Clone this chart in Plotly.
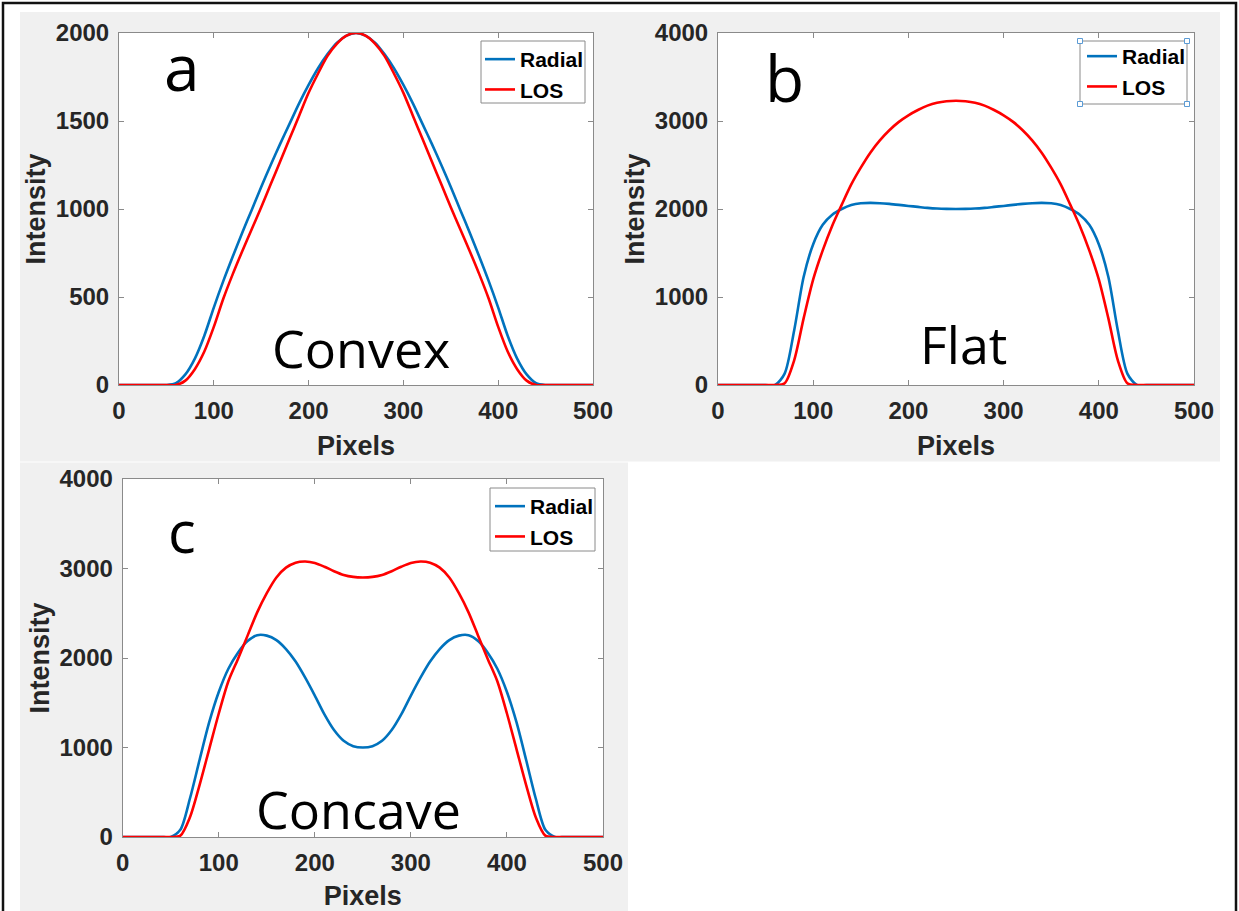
import plotly.graph_objects as go

W, H = 1239, 911

# ---------------- data ----------------
pixels = [0, 10, 20, 30, 40, 50, 60, 70, 80, 90, 100, 110, 120, 130, 140, 150, 160, 170, 180, 190,
          200, 210, 220, 230, 240, 250, 260, 270, 280, 290, 300, 310, 320, 330, 340, 350, 360, 370,
          380, 390, 400, 410, 420, 430, 440, 450, 460, 470, 480, 490, 500]

convex_radial = [0, 0, 0, 0, 0, 0,
                 10, 60, 150, 280, 440, 590, 730, 865, 995, 1125, 1250, 1370, 1485, 1600,
                 1705, 1800, 1880, 1945, 1985, 2000,
                 1985, 1945, 1880, 1800, 1705, 1600, 1485, 1370, 1250, 1125, 995, 865, 730, 590,
                 440, 280, 150, 60, 10, 0, 0, 0, 0, 0, 0]
convex_los = [0, 0, 0, 0, 0, 0, 0,
              25, 90, 190, 330, 490, 630, 760, 885, 1010, 1140, 1270, 1400, 1530,
              1660, 1770, 1870, 1940, 1985, 2000,
              1985, 1940, 1870, 1770, 1660, 1530, 1400, 1270, 1140, 1010, 885, 760, 630, 490,
              330, 190, 90, 25, 0, 0, 0, 0, 0, 0, 0]

flat_radial = [0, 0, 0, 0, 0, 0, 0,
               130, 620, 1230, 1600, 1820, 1935, 2000, 2045, 2065, 2070, 2066, 2058, 2047,
               2035, 2024, 2013, 2005, 2001, 2000,
               2001, 2005, 2013, 2024, 2035, 2047, 2058, 2066, 2070, 2065, 2045, 2000, 1935, 1820,
               1600, 1230, 620, 130, 0, 0, 0, 0, 0, 0, 0]
flat_los = [0, 0, 0, 0, 0, 0, 0,
            20, 280, 760, 1200, 1530, 1810, 2050, 2280, 2470, 2640, 2780, 2895, 2990,
            3065, 3125, 3175, 3208, 3225, 3230,
            3225, 3208, 3175, 3125, 3065, 2990, 2895, 2780, 2640, 2470, 2280, 2050, 1810, 1530,
            1200, 760, 280, 20, 0, 0, 0, 0, 0, 0, 0]

concave_radial = [0, 0, 0, 0, 0, 0,
                  80, 430, 860, 1280, 1620, 1880, 2060, 2190, 2255, 2250, 2200, 2100, 1960, 1780,
                  1580, 1370, 1195, 1075, 1015, 1000,
                  1015, 1075, 1195, 1370, 1580, 1780, 1960, 2100, 2200, 2250, 2255, 2190, 2060, 1880,
                  1620, 1280, 860, 430, 80, 0, 0, 0, 0, 0, 0]
concave_los = [0, 0, 0, 0, 0, 0,
               15, 220, 580, 980, 1380, 1740, 1990, 2250, 2510, 2725, 2900, 3010, 3065, 3078,
               3062, 3020, 2970, 2928, 2906, 2900,
               2906, 2928, 2970, 3020, 3062, 3078, 3065, 3010, 2900, 2725, 2510, 2250, 1990, 1740,
               1380, 980, 580, 220, 15, 0, 0, 0, 0, 0, 0]

x_ticks = [0, 100, 200, 300, 400, 500]
y_ticks_a = [0, 500, 1000, 1500, 2000]
y_ticks_bc = [0, 1000, 2000, 3000, 4000]

series_names = ["Radial", "LOS"]
panel_letters = ["a", "b", "c"]
panel_labels = ["Convex", "Flat", "Concave"]
x_title = "Pixels"
y_title = "Intensity"

# ---------------- styling helpers ----------------
BLUE = "#0072BD"
RED = "#FF0000"
AXC = "#8a8a8a"
TXT = "#262626"


def px(x):
    return x / W


def py(y):
    return 1 - y / H


fig = go.Figure()

panels = [
    dict(xa="x", ya="y", leg="legend", r=convex_radial, l=convex_los),
    dict(xa="x2", ya="y2", leg="legend2", r=flat_radial, l=flat_los),
    dict(xa="x3", ya="y3", leg="legend3", r=concave_radial, l=concave_los),
]
for p in panels:
    fig.add_trace(go.Scatter(x=pixels, y=p["r"], mode="lines", name=series_names[0],
                             line=dict(color=BLUE, width=2.6, shape="spline", smoothing=0.8),
                             xaxis=p["xa"], yaxis=p["ya"], legend=p["leg"], hoverinfo="skip"))
    fig.add_trace(go.Scatter(x=pixels, y=p["l"], mode="lines", name=series_names[1],
                             line=dict(color=RED, width=2.6, shape="spline", smoothing=0.8),
                             xaxis=p["xa"], yaxis=p["ya"], legend=p["leg"], hoverinfo="skip"))

tickfont = dict(family="Liberation Sans, Arial", size=24, color=TXT, weight="bold")
titlefont = dict(family="Liberation Sans, Arial", size=27, color=TXT, weight="bold")
ax_common = dict(showline=True, linecolor=AXC, linewidth=1, mirror="ticks", ticks="inside",
                 ticklen=5, tickcolor=AXC, showgrid=False, zeroline=False, tickfont=tickfont,
                 automargin=False, fixedrange=True)

# plot-area pixel boxes (left, right, top, bottom)
boxes = [(119, 593, 33, 385), (718, 1194, 33, 385), (122.7, 603, 479, 837)]

layout_axes = {}
for i, (bx, yt) in enumerate(zip(boxes, [y_ticks_a, y_ticks_bc, y_ticks_bc])):
    l, r, t, b = bx
    sfx = "" if i == 0 else str(i + 1)
    layout_axes["xaxis" + sfx] = dict(domain=[px(l), px(r)], anchor="y" + sfx, range=[0, 500],
                                      tickvals=x_ticks, ticklabelstandoff=4,
                                      title=dict(text=x_title, font=titlefont, standoff=13),
                                      **ax_common)
    layout_axes["yaxis" + sfx] = dict(domain=[py(b), py(t)], anchor="x" + sfx, range=[0, yt[-1]],
                                      tickvals=yt, ticklabelstandoff=4,
                                      title=dict(text=y_title, font=titlefont, standoff=2),
                                      **ax_common)

legfont = dict(family="Liberation Sans, Arial", size=21, color="black", weight="bold")
leg_common = dict(font=legfont, bgcolor="rgba(0,0,0,0)", borderwidth=0, itemwidth=30,
                  xanchor="right", yanchor="top", tracegroupgap=0)

shapes = [
    # grey figure backgrounds
    dict(type="rect", xref="paper", yref="paper", x0=px(20), x1=px(1220), y0=py(461.5), y1=py(12),
         fillcolor="#f0f0f0", line=dict(width=0), layer="below"),
    dict(type="rect", xref="paper", yref="paper", x0=px(20), x1=px(628), y0=py(925), y1=py(462.5),
         fillcolor="#f0f0f0", line=dict(width=0), layer="below"),
]
for (l, r, t, b) in boxes:
    shapes.append(dict(type="rect", xref="paper", yref="paper", x0=px(l), x1=px(r), y0=py(b), y1=py(t),
                       fillcolor="white", line=dict(width=0), layer="below"))

# legend frames (left, right, top, bottom)
legend_boxes = [(481, 585, 41, 103), (1080, 1187, 41, 104), (490, 595, 488, 551)]
for (l, r, t, b) in legend_boxes:
    shapes.append(dict(type="rect", xref="paper", yref="paper", x0=px(l), x1=px(r), y0=py(b), y1=py(t),
                       fillcolor="white", line=dict(color=AXC, width=1), layer="above"))
# selection handles on legend of panel b
l, r, t, b = legend_boxes[1]
for cx, cy in [(l, t), (r, t), (l, b), (r, b)]:
    shapes.append(dict(type="rect", xref="paper", yref="paper", x0=px(cx - 2.5), x1=px(cx + 2.5),
                       y0=py(cy + 2.5), y1=py(cy - 2.5), fillcolor="white",
                       line=dict(color="#5b9bd5", width=1), layer="above"))

# outer black frame
shapes.append(dict(type="rect", xref="paper", yref="paper", x0=px(3), x1=px(1236), y0=py(930), y1=py(3),
                   line=dict(color="#111111", width=2.5), fillcolor="rgba(0,0,0,0)", layer="above"))

annfont_big = "Open Sans, Noto Sans, sans-serif"
annotations = []
ann_pos = [
    (panel_letters[0], 182, 67, 64), (panel_letters[1], 784, 77, 64), (panel_letters[2], 182, 530, 58),
    (panel_labels[0], 361, 347, 52), (panel_labels[1], 963, 343, 52), (panel_labels[2], 358, 808, 52),
]
for txt, x, y, s in ann_pos:
    annotations.append(dict(text=txt, xref="paper", yref="paper", x=px(x), y=py(y), xanchor="center",
                            yanchor="middle", showarrow=False,
                            font=dict(family=annfont_big, size=s, color="black")))

fig.update_layout(
    width=W, height=H, margin=dict(l=0, r=0, t=0, b=0), autosize=False,
    paper_bgcolor="white", plot_bgcolor="white",
    showlegend=True,
    legend=dict(x=px(589), y=py(39), **leg_common),
    legend2=dict(x=px(1191), y=py(36), **leg_common),
    legend3=dict(x=px(599), y=py(486), **leg_common),
    shapes=shapes, annotations=annotations,
    **layout_axes,
)

fig.write_html("out.html", config={"displayModeBar": False, "staticPlot": True},
               post_script="document.body.style.margin='0';document.body.style.overflow='hidden';")
